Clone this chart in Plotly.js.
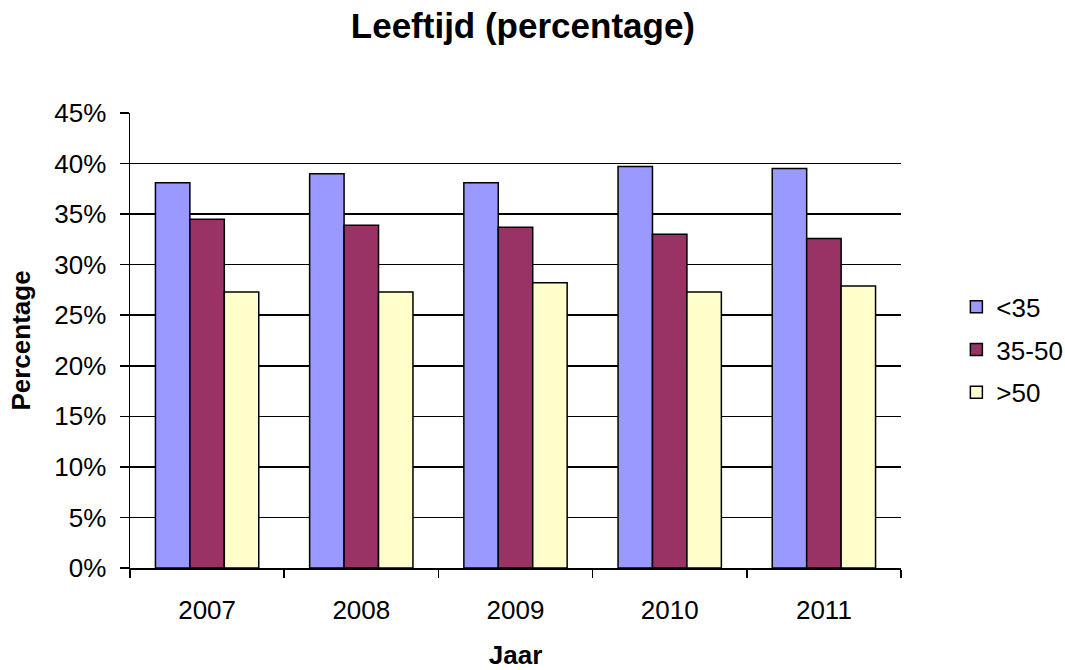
<!DOCTYPE html>
<html>
<head>
<meta charset="utf-8">
<script src="https://cdn.plot.ly/plotly-3.0.1.min.js"></script>
<style>html,body{margin:0;padding:0;background:#fff;}#chart{width:1065px;height:670px;}</style>
</head>
<body>
<div id="chart"></div>
<script>
const years = ['2007', '2008', '2009', '2010', '2011'];
const under35 = [38.1, 39.0, 38.1, 39.7, 39.5];
const mid35to50 = [34.5, 33.9, 33.7, 33.0, 32.6];
const over50 = [27.3, 27.3, 28.2, 27.3, 27.9];
const seriesNames = ['<35', '35-50', '>50'];
const yTickVals = [0, 5, 10, 15, 20, 25, 30, 35, 40, 45];
const yTickText = ['0%', '5%', '10%', '15%', '20%', '25%', '30%', '35%', '40%', '45%'];

const colors = ['#9999FF', '#993366', '#FFFFCC'];
const values = [under35, mid35to50, over50];
const traces = values.map((v, i) => ({
  type: 'bar',
  name: seriesNames[i],
  legendgroup: 'g' + i,
  x: years,
  y: v,
  marker: {color: colors[i], line: {color: '#000', width: 1.5}},
  hoverinfo: 'x+y+name'
}));

const FONT = 'Liberation Sans, Arial, sans-serif';
const layout = {
  width: 1065, height: 670,
  margin: {l: 130, r: 164, t: 113, b: 102, autoexpand: false},
  paper_bgcolor: '#fff', plot_bgcolor: '#fff',
  font: {family: FONT, color: '#000', size: 26},
  title: {text: '<b>Leeftijd (percentage)</b>', font: {size: 35, family: FONT}, x: 0.491, xref: 'container', y: 0.962, yref: 'container', yanchor: 'middle'},
  barmode: 'group',
  bargap: 0.33,
  bargroupgap: 0,
  showlegend: true,
  legend: {x: 0.898, xref: 'container', xanchor: 'left', y: 0.478, yref: 'container', yanchor: 'middle', font: {size: 26}, tracegroupgap: 6, itemwidth: 30},
  xaxis: {
    type: 'category',
    showline: true, linecolor: '#000', linewidth: 1.5,
    ticks: 'outside', tickson: 'boundaries', ticklen: 8, tickcolor: '#000', tickwidth: 1.5,
    tickfont: {size: 26},
    ticklabelstandoff: 18,
    showgrid: false,
    title: {text: '<b>Jaar</b>', font: {size: 26}, standoff: 30}
  },
  yaxis: {
    range: [0, 45],
    tickvals: yTickVals, ticktext: yTickText,
    showline: true, linecolor: '#000', linewidth: 1.5,
    ticks: 'outside', ticklen: 9, tickcolor: '#000', tickwidth: 1.5,
    ticklabelstandoff: 8,
    showgrid: true, gridcolor: '#000', gridwidth: 1.5,
    zeroline: false,
    tickfont: {size: 26},
    title: {text: '<b>Percentage</b>', font: {size: 26}, standoff: 16}
  }
};

Plotly.newPlot('chart', traces, layout, {displayModeBar: false, staticPlot: true});
</script>
</body>
</html>
